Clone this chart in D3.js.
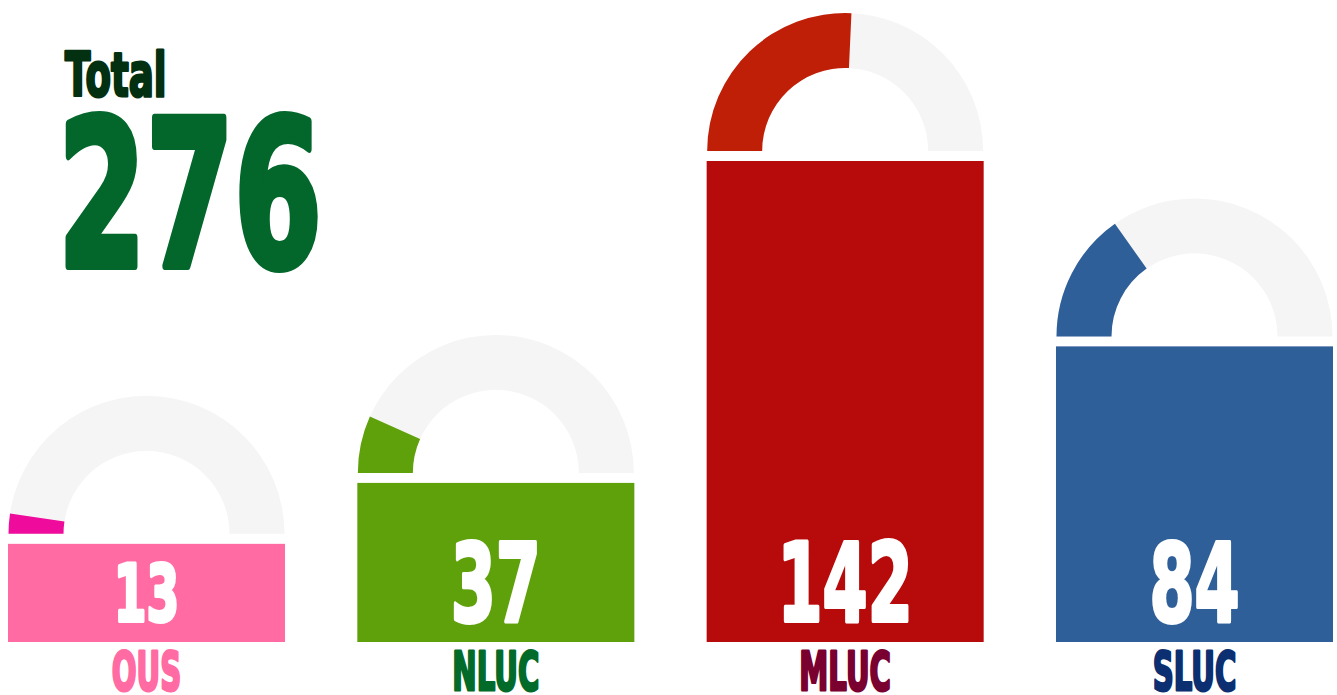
<!DOCTYPE html>
<html>
<meta charset="utf-8">
<head>
<title>Total 276</title>
<script src="https://cdnjs.cloudflare.com/ajax/libs/d3/7.8.5/d3.min.js"></script>
<style>
  body { margin: 0; background: #fff; }
  text { font-family: "DejaVu Sans", sans-serif; font-weight: bold; }
</style>
</head>
<body>
<script>

const width = 1337,
    height = 695;

// data
const categories = ["OUS", "NLUC", "MLUC", "SLUC"];
const values = [13, 37, 142, 84];
const barColours = ["#ff6ba2", "#5fa10a", "#b70b0b", "#2e5f98"];
const arcColours = ["#ef0b9b", "#5fa10a", "#c01f07", "#2e5f98"];
const labelColours = ["#ff6ba2", "#036b2a", "#7a0030", "#0b2f70"];

const total = d3.sum(values);
const rows = categories.map((c, i) => ({
    name: c, value: values[i], share: values[i] / total,
    bar: barColours[i], arc: arcColours[i], label: labelColours[i]
}));

const svg = d3.select("body")
    .append("svg")
    .attr("width", width)
    .attr("height", height);

const baseline = 642;

const x = d3.scaleBand()
    .domain(categories)
    .range([8, 1333])
    .paddingInner(0.207);

// bar heights grow a bit faster than linear
const h = d3.scalePow()
    .exponent(1.15)
    .domain([0, d3.max(values)])
    .range([72, 481]);

const outerR = 138, innerR = 83, gaugeGap = 10;

// condensed heavy text: squeeze horizontally and thicken with a stroke
function heavyText(g, str, size, sx, colour, anchor, strokeW) {
    g.append("g")
        .attr("transform", `scale(${sx},1)`)
        .append("text")
        .attr("text-anchor", anchor)
        .attr("font-size", size)
        .attr("fill", colour)
        .attr("stroke", colour)
        .attr("stroke-width", strokeW)
        .attr("stroke-linejoin", "round")
        .text(str);
}

const groups = svg.selectAll("g.cat")
    .data(rows)
    .enter()
    .append("g")
    .attr("class", "cat");

// bars
groups.append("rect")
    .attr("x", d => x(d.name))
    .attr("y", d => baseline - h(d.value))
    .attr("width", x.bandwidth())
    .attr("height", d => h(d.value))
    .attr("fill", d => d.bar);

// gauges
const arc = d3.arc().innerRadius(innerR).outerRadius(outerR);
const gauges = groups.append("g")
    .attr("transform", d => `translate(${x(d.name) + x.bandwidth() / 2},${baseline - h(d.value) - gaugeGap})`);
gauges.append("path")
    .attr("d", arc({ startAngle: -Math.PI / 2, endAngle: Math.PI / 2 }))
    .attr("fill", "#f5f5f5");
gauges.append("path")
    .attr("d", d => arc({ startAngle: -Math.PI / 2, endAngle: -Math.PI / 2 + Math.PI * d.share }))
    .attr("fill", d => d.arc);

// value inside bar
groups.each(function(d) {
    const g = d3.select(this).append("g")
        .attr("transform", `translate(${x(d.name) + x.bandwidth() / 2},${baseline - 21})`);
    const size = Math.min(108, h(d.value) * 0.8);
    heavyText(g, d.value, size, 0.6, "#fff", "middle", 4);
});

// category labels
groups.each(function(d) {
    const g = d3.select(this).append("g")
        .attr("transform", `translate(${x(d.name) + x.bandwidth() / 2},690)`);
    heavyText(g, d.name, 53, 0.55, d.label, "middle", 3);
});

// total
const t1 = svg.append("g").attr("transform", "translate(65,96)");
heavyText(t1, "Total", 60, 0.62, "#023010", "start", 3);
const t2 = svg.append("g").attr("transform", "translate(58,266)");
heavyText(t2, total, 204, 0.62, "#03672c", "start", 8);

</script>
</body>
</html>
